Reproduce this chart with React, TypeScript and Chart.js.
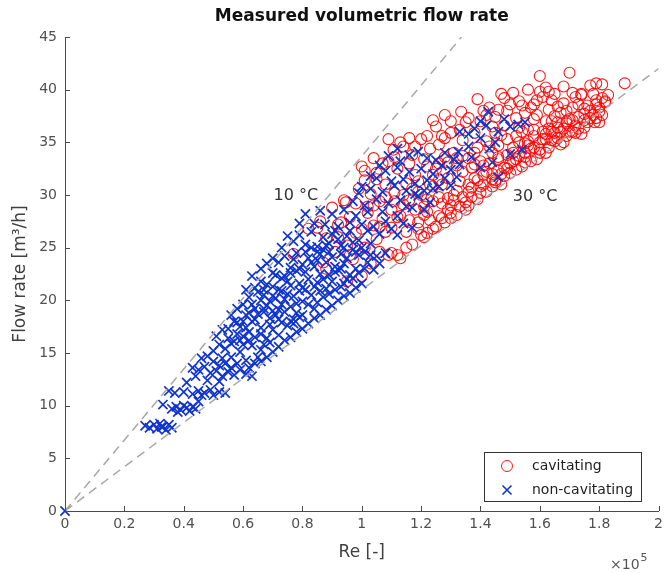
import React, { useEffect, useRef } from 'react';
import { Chart, registerables } from 'chart.js';
Chart.register(...registerables);

const chartTitle = 'Measured volumetric flow rate';
const xAxisTitle = 'Re [-]';
const yAxisTitle = 'Flow rate [m³/h]';
const xTicks = [0, 0.2, 0.4, 0.6, 0.8, 1, 1.2, 1.4, 1.6, 1.8, 2];
const yTicks = [0, 5, 10, 15, 20, 25, 30, 35, 40, 45];
const legendLabels = ['cavitating', 'non-cavitating'];

// Re in units of 1e5, flow rate in m3/h
const cavitating: [number, number][] = [
  [0.77, 24.4], [0.82, 26.8], [0.85, 26.9], [0.86, 27.5], [0.88, 25.9], [0.90, 28.8], [0.92, 27.2], [0.93, 27.4], [0.946, 29.3],
  [0.94, 29.5], [0.87, 23.6], [0.91, 24.6], [0.95, 25.2], [0.97, 23.9], [1.01, 25.0], [1.05, 25.8], [1.09, 24.3], [0.95, 21.8], [1.0, 22.3],
  [0.96, 27.9], [0.98, 29.2], [1.00, 26.8], [0.99, 30.6], [1.01, 31.4], [1.05, 32.1], [1.07, 33.0], [1.02, 28.9],
  [1.02, 28.3], [1.03, 30.1], [1.04, 27.1], [1.05, 31.5], [1.01, 32.3],
  [1.06, 29.4], [1.07, 27.8], [1.08, 31.0], [1.09, 33.2], [1.10, 28.6], [1.08, 26.5], [1.107, 34.3],
  [1.11, 30.2], [1.12, 32.5], [1.13, 28.0], [1.14, 34.6], [1.15, 31.1], [1.13, 35.0],
  [1.16, 29.5], [1.17, 33.8], [1.18, 31.9], [1.19, 27.4], [1.20, 35.3], [1.19, 30.3],
  [1.21, 28.9], [1.22, 32.7], [1.23, 34.4], [1.24, 30.8], [1.25, 36.5], [1.22, 26.4], [1.24, 37.1],
  [1.26, 33.0], [1.27, 29.2], [1.28, 35.4], [1.29, 31.6], [1.30, 27.8], [1.28, 37.6],
  [1.31, 34.0], [1.32, 30.4], [1.33, 36.2], [1.34, 32.2], [1.35, 28.6], [1.335, 37.9],
  [1.36, 33.5], [1.37, 29.8], [1.38, 35.9], [1.39, 31.4], [1.40, 37.0], [1.39, 39.1],
  [1.41, 32.8], [1.42, 30.3], [1.43, 34.6], [1.44, 36.5], [1.45, 31.2], [1.43, 38.3],
  [1.46, 33.4], [1.47, 35.7], [1.48, 31.8], [1.49, 38.0], [1.50, 33.0], [1.47, 39.6],
  [1.51, 34.5], [1.52, 32.4], [1.53, 36.4], [1.54, 38.5], [1.55, 33.6], [1.51, 39.7],
  [1.56, 35.1], [1.57, 33.2], [1.58, 37.2], [1.59, 39.0], [1.60, 34.3], [1.60, 41.3], [1.60, 39.8],
  [1.61, 36.0], [1.62, 34.0], [1.63, 38.1], [1.64, 35.2], [1.65, 39.6],
  [1.66, 36.4], [1.67, 34.8], [1.68, 38.7], [1.69, 35.6], [1.70, 41.6], [1.70, 37.2], [1.68, 40.3],
  [1.71, 36.0], [1.72, 39.3], [1.73, 37.4], [1.74, 35.8], [1.75, 38.2], [1.74, 39.5],
  [1.76, 36.9], [1.77, 40.4], [1.78, 37.6], [1.79, 39.0], [1.80, 38.3], [1.785, 36.9],
  [1.81, 40.5], [1.82, 38.8], [1.79, 40.6], [1.886, 40.6],
  [1.30, 29.0], [1.34, 29.8], [1.37, 30.7], [1.41, 31.0], [1.44, 32.0], [1.48, 32.6], [1.51, 33.2], [1.55, 34.0],
  [1.58, 34.5], [1.62, 35.3], [1.65, 35.9], [1.68, 36.3], [1.26, 28.0], [1.23, 27.6], [1.19, 26.8], [1.15, 26.5], [1.12, 24.3],
  [1.10, 24.5], [1.10, 26.9], [1.11, 29.4],
  [1.15, 25.0], [1.16, 27.6], [1.14, 30.0], [1.16, 33.0],
  [1.20, 26.2], [1.21, 28.1], [1.19, 31.3], [1.21, 33.4],
  [1.25, 27.0], [1.26, 29.8], [1.24, 31.9], [1.26, 34.8],
  [1.30, 28.3], [1.31, 30.0], [1.29, 33.1], [1.30, 35.9],
  [1.35, 29.3], [1.36, 31.0], [1.34, 33.7], [1.35, 36.9],
  [1.40, 30.2], [1.41, 31.9], [1.39, 34.5], [1.41, 38.0],
  [1.45, 31.4], [1.46, 32.3], [1.44, 34.0], [1.45, 37.4],
  [1.50, 32.1], [1.51, 34.0], [1.49, 35.3], [1.50, 38.6],
  [1.55, 33.1], [1.56, 34.7], [1.54, 36.0], [1.55, 37.8],
  [1.60, 34.0], [1.61, 35.3], [1.59, 37.6], [1.61, 39.3],
  [1.65, 35.1], [1.66, 36.9], [1.64, 37.0], [1.66, 38.4],
  [1.70, 36.0], [1.71, 37.1], [1.69, 38.0], [1.71, 39.7],
  [1.75, 37.1], [1.76, 38.5], [1.74, 39.6],
  [1.80, 37.9], [1.81, 39.2], [1.79, 38.6], [1.82, 38.9],
  [1.12, 27.9], [1.14, 29.1], [1.17, 30.6], [1.18, 28.6], [1.22, 29.6], [1.23, 31.0], [1.25, 32.5], [1.27, 31.0],
  [1.28, 33.6], [1.29, 29.7], [1.32, 32.8], [1.33, 31.3], [1.34, 35.2], [1.37, 32.6], [1.38, 34.0], [1.40, 33.2],
  [1.42, 35.1], [1.43, 33.0], [1.44, 30.8], [1.46, 34.7], [1.47, 31.0], [1.48, 36.6], [1.49, 33.8], [1.52, 35.6],
  [1.53, 33.7], [1.54, 32.7], [1.56, 36.2], [1.57, 38.3], [1.58, 35.6], [1.59, 33.4], [1.62, 37.0], [1.63, 36.3],
  [1.63, 34.5], [1.64, 39.0], [1.66, 35.4], [1.67, 37.8], [1.68, 35.0], [1.69, 36.8], [1.72, 36.6], [1.73, 38.6],
  [1.72, 35.9], [1.75, 36.4], [1.77, 37.3], [1.78, 39.6], [1.80, 36.9], [1.83, 39.5], [1.81, 37.6], [1.62, 40.2],
  [1.56, 40.0], [1.53, 38.9], [1.46, 38.1], [1.36, 37.3], [1.30, 37.0], [1.27, 35.6], [1.22, 35.6], [1.18, 34.6],
  [1.16, 35.4], [1.11, 33.6], [1.04, 33.5], [1.00, 32.7], [1.09, 35.3],
  [0.88, 23.0], [0.92, 26.0], [0.98, 26.4], [1.04, 29.0], [1.06, 27.0], [1.08, 29.8], [1.03, 23.5], [1.06, 24.6], [0.96, 24.3],
  [1.13, 24.0], [1.17, 25.3], [1.21, 26.0], [1.24, 26.8], [1.28, 27.4], [1.32, 28.1], [1.36, 29.0], [1.39, 29.6],
  [1.22, 28.4], [1.24, 29.4], [1.27, 27.8], [1.29, 28.6], [1.31, 29.5], [1.33, 28.9], [1.36, 30.3], [1.38, 31.6],
  [1.40, 30.8], [1.42, 32.2], [1.44, 31.5], [1.46, 33.6], [1.47, 32.0], [1.49, 32.5], [1.52, 33.4], [1.53, 35.0],
  [1.55, 34.9], [1.57, 34.4], [1.58, 36.2], [1.60, 35.0], [1.62, 35.8], [1.64, 36.0], [1.65, 37.5], [1.67, 36.0],
  [1.69, 37.0], [1.71, 38.3], [1.73, 36.3], [1.75, 37.7], [1.77, 38.0], [1.79, 37.3], [1.20, 30.0], [1.26, 31.4],
  [1.32, 33.5], [1.38, 32.9], [1.45, 35.9], [1.52, 37.3], [1.58, 38.6], [1.63, 39.8], [1.48, 39.2], [1.42, 37.6],
];

const nonCavitating: [number, number][] = [
  [0, 0],
  [0.27, 8.1], [0.285, 7.9], [0.30, 8.2], [0.31, 7.8], [0.32, 8.3], [0.33, 8.0], [0.34, 7.7], [0.35, 8.2], [0.36, 7.9], [0.325, 8.0],
  [0.33, 10.1], [0.36, 9.7], [0.375, 9.9], [0.39, 9.6], [0.40, 10.0], [0.41, 9.8], [0.42, 9.5], [0.43, 9.9], [0.44, 9.7],
  [0.35, 11.4], [0.37, 11.2], [0.40, 11.3], [0.43, 11.1], [0.45, 11.4], [0.47, 11.2], [0.49, 11.5], [0.50, 11.0], [0.52, 11.3], [0.54, 11.2], [0.46, 11.0],
  [0.43, 13.6], [0.45, 13.4], [0.47, 13.7], [0.49, 13.1], [0.51, 13.3], [0.53, 12.8], [0.55, 13.2], [0.57, 12.9], [0.59, 13.4], [0.61, 13.0], [0.63, 12.8], [0.52, 13.8], [0.56, 13.6],
  [0.48, 14.7], [0.50, 15.2], [0.52, 15.8], [0.54, 15.4], [0.56, 14.6], [0.57, 16.1], [0.59, 15.1], [0.61, 14.3], [0.63, 15.7], [0.65, 14.6], [0.55, 16.4], [0.60, 16.6], [0.66, 15.3],
  [0.55, 17.3], [0.57, 18.0], [0.59, 17.5], [0.61, 18.6], [0.62, 17.0], [0.64, 18.2], [0.66, 17.4], [0.68, 16.4], [0.70, 17.2], [0.72, 16.7], [0.67, 18.9], [0.69, 18.3], [0.73, 17.9], [0.75, 17.6],
  [0.60, 19.6], [0.62, 20.3], [0.64, 19.2], [0.66, 20.0], [0.68, 19.5], [0.70, 20.4], [0.72, 19.1], [0.74, 20.1], [0.76, 19.4], [0.78, 18.8], [0.80, 19.9], [0.82, 19.6], [0.71, 18.6], [0.77, 18.2],
  [0.64, 21.2], [0.66, 21.8], [0.68, 21.5], [0.70, 22.6], [0.72, 21.0], [0.74, 22.3], [0.76, 21.4], [0.78, 22.8], [0.80, 21.2], [0.82, 22.0], [0.84, 21.3], [0.86, 22.5], [0.88, 21.1], [0.90, 21.8], [0.71, 22.4],
  [0.72, 23.6], [0.74, 24.2], [0.76, 23.1], [0.78, 24.5], [0.80, 23.4], [0.82, 24.0], [0.84, 23.2], [0.86, 24.4], [0.88, 23.6], [0.90, 24.1], [0.92, 22.9], [0.94, 23.5], [0.96, 22.4], [0.98, 23.0],
  [0.77, 25.6], [0.79, 26.2], [0.81, 25.3], [0.83, 26.5], [0.85, 25.1], [0.87, 26.0], [0.89, 25.4], [0.91, 26.6], [0.93, 25.2], [0.95, 26.1], [0.97, 24.8], [0.99, 25.7], [1.01, 24.6], [1.03, 25.4], [1.05, 24.2],
  [0.84, 27.3], [0.86, 28.5], [0.876, 27.2], [0.90, 28.2], [0.92, 27.0], [0.94, 28.6], [0.96, 27.4], [0.98, 28.0], [1.00, 27.2], [1.02, 28.4], [1.04, 27.0], [1.06, 26.3], [1.08, 27.5], [1.10, 26.8],
  [0.97, 29.4], [0.99, 30.2], [1.01, 29.0], [1.03, 30.6], [1.05, 29.6], [1.07, 30.3], [1.09, 29.2], [1.11, 30.9], [1.13, 29.5], [1.15, 30.4], [1.17, 28.8], [1.19, 29.9], [1.21, 28.6], [1.23, 29.3],
  [1.05, 31.6], [1.08, 32.3], [1.10, 31.3], [1.12, 32.6], [1.14, 31.5], [1.16, 32.2], [1.18, 31.1], [1.20, 32.5], [1.22, 31.4], [1.24, 32.0], [1.26, 30.8], [1.28, 31.6], [1.30, 30.9], [1.32, 31.7],
  [1.13, 33.2], [1.16, 33.8], [1.19, 34.1], [1.22, 33.5], [1.25, 33.3], [1.28, 34.0], [1.31, 33.4], [1.325, 34.1], [1.37, 33.6], [1.40, 35.4], [1.43, 34.4], [1.45, 35.0], [1.40, 32.6], [1.46, 31.7],
  [1.33, 36.0], [1.36, 35.8], [1.40, 37.0], [1.426, 37.9], [1.46, 36.0], [1.50, 36.5], [1.527, 36.7], [1.55, 36.9], [1.54, 34.3], [1.50, 33.9],
  [0.62, 13.6], [0.64, 14.0], [0.66, 14.2], [0.68, 14.6], [0.70, 15.1], [0.67, 15.8], [0.69, 16.0],
  [0.72, 15.6], [0.74, 16.2], [0.76, 16.5], [0.78, 17.0], [0.80, 17.3], [0.77, 17.8], [0.79, 18.4],
  [0.82, 17.8], [0.84, 18.3], [0.86, 18.6], [0.88, 19.1], [0.90, 19.5], [0.85, 19.8], [0.87, 20.3],
  [0.92, 20.0], [0.94, 20.4], [0.96, 20.7], [0.98, 21.2], [1.00, 21.6], [0.93, 21.3], [0.95, 22.0],
  [0.58, 16.8], [0.60, 18.0], [0.62, 18.8], [0.64, 16.5], [0.65, 20.8], [0.67, 20.5], [0.69, 19.9], [0.73, 20.9],
  [0.75, 21.8], [0.79, 21.6], [0.81, 22.7], [0.83, 23.6], [0.85, 23.8], [0.87, 24.8], [0.89, 24.6], [0.91, 23.2],
  [0.93, 24.4], [0.95, 24.0], [0.97, 25.5], [0.99, 24.3], [1.02, 23.6], [1.04, 22.9], [1.06, 23.5], [1.08, 24.5],
  [0.38, 9.4], [0.45, 10.4], [0.41, 12.2], [0.48, 12.4], [0.44, 12.8], [0.50, 14.2], [0.53, 14.5], [0.58, 14.0],
  [0.46, 14.5], [0.51, 16.6], [0.53, 17.2], [0.56, 18.6], [0.58, 19.2], [0.61, 21.0], [0.63, 22.3], [0.66, 23.0],
  [0.68, 23.5], [0.70, 24.0], [0.73, 25.0], [0.75, 26.1], [0.79, 27.3], [0.81, 28.2],
  [1.00, 30.8], [1.03, 31.8], [1.06, 32.8], [1.09, 33.7], [1.12, 34.4], [1.07, 28.4], [1.12, 28.0], [1.15, 28.9],
  [1.18, 30.1], [1.21, 30.4], [1.24, 30.6], [1.27, 32.8], [1.30, 32.4], [1.33, 32.9], [1.36, 34.6], [1.38, 36.3],
  [1.42, 36.6], [1.48, 37.2], [1.44, 33.1], [1.12, 26.2], [1.14, 27.3], [1.17, 26.9],
  [0.56, 15.9], [0.58, 17.9], [0.60, 15.8], [0.62, 16.2], [0.63, 19.6], [0.65, 18.7], [0.66, 16.8], [0.67, 19.2],
  [0.69, 17.7], [0.70, 19.0], [0.71, 20.2], [0.72, 18.2], [0.73, 19.6], [0.74, 18.9], [0.75, 20.6], [0.76, 18.0],
  [0.77, 20.4], [0.78, 19.7], [0.79, 20.9], [0.80, 18.6], [0.81, 21.0], [0.83, 20.5], [0.84, 19.2], [0.85, 21.7],
  [0.86, 20.9], [0.87, 22.0], [0.89, 20.6], [0.89, 22.4], [0.91, 21.0], [0.91, 22.7], [0.93, 23.0], [0.94, 21.6],
  [0.97, 22.1], [0.99, 22.6], [1.01, 23.0], [1.03, 24.3], [0.76, 22.6], [0.77, 23.9], [0.79, 23.0], [0.81, 24.6],
  [0.83, 25.0], [0.85, 24.6], [0.88, 25.2], [0.90, 26.3], [0.92, 25.8], [0.94, 25.0], [0.96, 26.6], [0.98, 24.6],
  [1.00, 25.0], [1.02, 26.6], [0.73, 22.1], [0.70, 21.3], [0.67, 21.0], [0.63, 18.0], [0.61, 17.4], [0.59, 16.2],
  [0.54, 14.0], [0.52, 12.3],
];

const line10C: [number, number][] = [[0, 0], [1.336, 45]];
const line30C: [number, number][] = [[0, 0], [2.0, 42]];
const lineLabels = [
  { text: '10 °C', x: 0.778, y: 29.9 },
  { text: '30 °C', x: 1.584, y: 29.8 },
];

const FONT = "'DejaVu Sans', 'Liberation Sans', sans-serif";
const RED = 'rgba(255, 0, 0, 0.9)';
const BLUE = 'rgb(16, 52, 206)';
const AXIS = '#4a4a4a';

const toXY = (arr: [number, number][]) => arr.map(([x, y]) => ({ x, y }));

const decorPlugin = {
  id: 'decor',
  afterDraw(chart: any) {
    const { ctx, chartArea, scales } = chart;
    const xs = scales.x;
    const ys = scales.y;
    ctx.save();
    // inward ticks
    ctx.strokeStyle = AXIS;
    ctx.lineWidth = 1;
    ctx.beginPath();
    xTicks.forEach((v) => {
      const px = Math.round(xs.getPixelForValue(v)) + 0.5;
      ctx.moveTo(px, chartArea.bottom);
      ctx.lineTo(px, chartArea.bottom - 5);
    });
    yTicks.forEach((v) => {
      const py = Math.round(ys.getPixelForValue(v)) + 0.5;
      ctx.moveTo(chartArea.left, py);
      ctx.lineTo(chartArea.left + 5, py);
    });
    ctx.stroke();

    // title
    ctx.fillStyle = '#111';
    ctx.font = `bold 17px ${FONT}`;
    ctx.textAlign = 'center';
    ctx.textBaseline = 'middle';
    ctx.fillText(chartTitle, (chartArea.left + chartArea.right) / 2, 17);

    // line labels
    ctx.fillStyle = '#333';
    ctx.font = `16px ${FONT}`;
    lineLabels.forEach((l) => {
      ctx.fillText(l.text, xs.getPixelForValue(l.x), ys.getPixelForValue(l.y));
    });

    // exponent
    ctx.fillStyle = '#555';
    ctx.font = `14px ${FONT}`;
    ctx.textAlign = 'right';
    ctx.textBaseline = 'alphabetic';
    ctx.fillText('×10', chartArea.right - 19, 569);
    ctx.font = `11px ${FONT}`;
    ctx.textAlign = 'left';
    ctx.fillText('5', chartArea.right - 18, 561);

    // legend
    const lx = 484.5, ly = 452.5, lw = 157, lh = 49;
    ctx.fillStyle = '#fff';
    ctx.fillRect(lx, ly, lw, lh);
    ctx.strokeStyle = '#333';
    ctx.strokeRect(lx, ly, lw, lh);
    ctx.strokeStyle = RED;
    ctx.beginPath();
    ctx.arc(507, 466, 5.5, 0, Math.PI * 2);
    ctx.stroke();
    ctx.strokeStyle = BLUE;
    ctx.lineWidth = 1.6;
    ctx.beginPath();
    ctx.moveTo(502.5, 485.5); ctx.lineTo(511.5, 494.5);
    ctx.moveTo(511.5, 485.5); ctx.lineTo(502.5, 494.5);
    ctx.stroke();
    ctx.fillStyle = '#222';
    ctx.font = `14px ${FONT}`;
    ctx.textAlign = 'left';
    ctx.textBaseline = 'middle';
    ctx.fillText(legendLabels[0], 532, 466);
    ctx.fillText(legendLabels[1], 532, 490);
    ctx.restore();
  },
};

export default function App() {
  const ref = useRef<HTMLCanvasElement | null>(null);
  useEffect(() => {
    document.body.style.margin = '0';
    if (!ref.current) return;
    const chart = new Chart(ref.current, {
      type: 'scatter',
      data: {
        datasets: [
          {
            type: 'line',
            label: '10C',
            data: toXY(line10C),
            borderColor: '#a8a8a8',
            borderDash: [9, 6],
            borderWidth: 1.5,
            pointRadius: 0,
            order: 0,
          } as any,
          {
            type: 'line',
            label: '30C',
            data: toXY(line30C),
            borderColor: '#a8a8a8',
            borderDash: [9, 6],
            borderWidth: 1.5,
            pointRadius: 0,
            order: 0,
          } as any,
          {
            label: legendLabels[0],
            data: toXY(cavitating),
            pointStyle: 'circle',
            pointRadius: 5.5,
            borderColor: RED,
            backgroundColor: 'rgba(0,0,0,0)',
            borderWidth: 1.1,
            clip: false,
            order: 2,
          } as any,
          {
            label: legendLabels[1],
            data: toXY(nonCavitating),
            pointStyle: 'crossRot',
            pointRadius: 6.5,
            borderColor: BLUE,
            backgroundColor: BLUE,
            borderWidth: 1.7,
            clip: false,
            order: 1,
          } as any,
        ],
      },
      options: {
        animation: false,
        responsive: false,
        devicePixelRatio: 1,
        layout: { padding: { left: 0, right: 7, top: 37, bottom: 0 } },
        plugins: {
          legend: { display: false },
          tooltip: { enabled: false },
          title: { display: false },
        },
        scales: {
          x: {
            type: 'linear',
            min: 0,
            max: 2,
            afterBuildTicks: (s: any) => { s.ticks = xTicks.map((v) => ({ value: v })); },
            afterFit: (s: any) => { s.height = 62; },
            grid: { display: false, drawTicks: false },
            border: { display: true, color: AXIS, width: 1 },
            ticks: {
              callback: (v: any) => String(v),
              font: { family: FONT, size: 14 },
              color: '#505050',
              padding: 5,
              maxRotation: 0,
              autoSkip: false,
            },
            title: {
              display: true,
              text: xAxisTitle,
              font: { family: FONT, size: 17 },
              color: '#404040',
              padding: { top: 0, bottom: 10 },
            },
          },
          y: {
            type: 'linear',
            min: 0,
            max: 45,
            afterBuildTicks: (s: any) => { s.ticks = yTicks.map((v) => ({ value: v })); },
            afterFit: (s: any) => { s.width = 65; },
            grid: { display: false, drawTicks: false },
            border: { display: true, color: AXIS, width: 1 },
            ticks: {
              callback: (v: any) => String(v),
              font: { family: FONT, size: 14 },
              color: '#505050',
              padding: 8,
              autoSkip: false,
            },
            title: {
              display: true,
              text: yAxisTitle,
              font: { family: FONT, size: 17 },
              color: '#404040',
              padding: { top: 10, bottom: 0 },
            },
          },
        },
      },
      plugins: [decorPlugin],
    } as any);
    return () => chart.destroy();
  }, []);
  return <canvas ref={ref} width={668} height={573} style={{ display: 'block', width: 668, height: 573 }} />;
}
